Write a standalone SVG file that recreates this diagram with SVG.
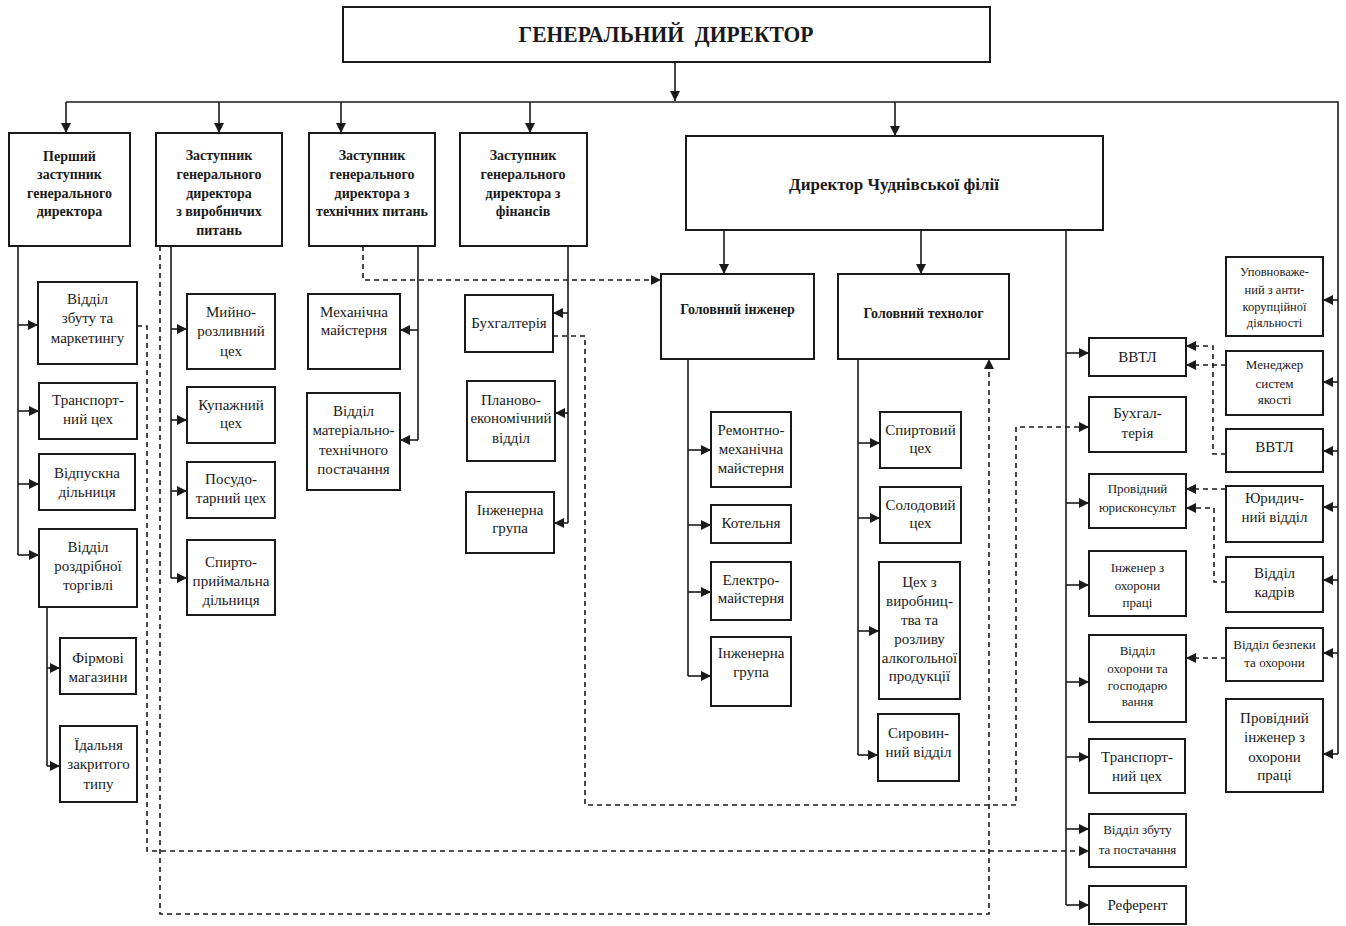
<svg xmlns="http://www.w3.org/2000/svg" width="1346" height="926" viewBox="0 0 1346 926">
<style>
.b{fill:#fff;stroke:#1a1a1a;stroke-width:2}
text{font-family:"Liberation Serif","Times New Roman",serif;fill:#1a1a1a;text-anchor:middle;font-size:15px}
.bo{font-weight:bold;font-size:14px}
.s{font-size:13px}
.xs{font-size:12.5px}
.c{fill:none;stroke:#1a1a1a;stroke-width:1.6;marker-end:url(#a)}
.l{fill:none;stroke:#1a1a1a;stroke-width:1.6}
.d{fill:none;stroke:#1a1a1a;stroke-width:1.6;stroke-dasharray:5 4;marker-end:url(#a)}
</style>
<defs>
<marker id="a" viewBox="0 0 10 10" refX="10" refY="5" markerWidth="11" markerHeight="10" markerUnits="userSpaceOnUse" orient="auto"><path d="M0,0 L10,5 L0,10 z" fill="#1a1a1a"/></marker>
</defs>
<rect width="1346" height="926" fill="#fff"/>

<g id="connectors">
<path class="c" d="M675,62 V101"/>
<path class="l" d="M66,102 H1338 V754"/>
<path class="c" d="M66,102 V133"/>
<path class="c" d="M219,102 V133"/>
<path class="c" d="M341,102 V133"/>
<path class="c" d="M530,102 V133"/>
<path class="c" d="M895,102 V136"/>
<path class="l" d="M18,246 V555"/>
<path class="c" d="M18,325 H38"/>
<path class="c" d="M18,411 H39"/>
<path class="c" d="M18,484 H39"/>
<path class="c" d="M18,555 H39"/>
<path class="l" d="M47,607 V766"/>
<path class="c" d="M47,668 H60"/>
<path class="c" d="M47,766 H60"/>
<path class="l" d="M171,246 V578"/>
<path class="c" d="M171,329 H187"/>
<path class="c" d="M171,420 H187"/>
<path class="c" d="M171,491 H187"/>
<path class="c" d="M171,578 H187"/>
<path class="l" d="M418,246 V440"/>
<path class="c" d="M418,330 H400"/>
<path class="c" d="M418,440 H400"/>
<path class="l" d="M568,246 V523"/>
<path class="c" d="M568,313 H553"/>
<path class="c" d="M568,413 H555"/>
<path class="c" d="M568,523 H554"/>
<path class="c" d="M724,230 V274"/>
<path class="c" d="M921,230 V274"/>
<path class="l" d="M688,359 V676"/>
<path class="c" d="M688,450 H711"/>
<path class="c" d="M688,525 H711"/>
<path class="c" d="M688,592 H711"/>
<path class="c" d="M688,676 H711"/>
<path class="l" d="M858,359 V755"/>
<path class="c" d="M858,443 H880"/>
<path class="c" d="M858,518 H880"/>
<path class="c" d="M858,631 H879"/>
<path class="c" d="M858,755 H878"/>
<path class="l" d="M1066,230 V905"/>
<path class="c" d="M1066,353 H1089"/>
<path class="c" d="M1066,503 H1089"/>
<path class="c" d="M1066,585 H1089"/>
<path class="c" d="M1066,682 H1089"/>
<path class="c" d="M1066,757 H1089"/>
<path class="c" d="M1066,829 H1089"/>
<path class="c" d="M1066,905 H1089"/>
<path class="c" d="M1338,300 H1323"/>
<path class="c" d="M1338,382 H1323"/>
<path class="c" d="M1338,451 H1323"/>
<path class="c" d="M1338,507 H1323"/>
<path class="c" d="M1338,580 H1323"/>
<path class="c" d="M1338,653 H1323"/>
<path class="c" d="M1338,754 H1323"/>
<path class="d" d="M363,246 V280 H661"/>
<path class="d" d="M553,336 H585 V805 H1016 V427 H1089"/>
<path class="d" d="M137,326 H147 V851 H1089"/>
<path class="d" d="M160,246 V914 H989 V359"/>
<path class="d" d="M1226,365 H1186"/>
<path class="d" d="M1226,454 H1213 V346 H1186"/>
<path class="d" d="M1226,489 H1186"/>
<path class="d" d="M1226,582 H1214 V508 H1186"/>
<path class="d" d="M1226,658 H1186"/>
</g>

<g id="gen-dir"><rect class="b" x="343" y="7" width="647" height="55"/><text x="666" y="42" style="font-size:24px;font-weight:bold;white-space:pre" xml:space="preserve" textLength="295" lengthAdjust="spacingAndGlyphs">ГЕНЕРАЛЬНИЙ  ДИРЕКТОР</text></g>

<g id="first-dep"><rect class="b" x="9" y="133" width="121" height="113"/><text class="bo" x="69.5"><tspan x="69.5" y="161">Перший</tspan><tspan x="69.5" y="179">заступник</tspan><tspan x="69.5" y="198">генерального</tspan><tspan x="69.5" y="216">директора</tspan></text></g>
<g id="dep-prod"><rect class="b" x="156" y="133" width="126" height="113"/><text class="bo" x="219"><tspan x="219" y="160">Заступник</tspan><tspan x="219" y="179">генерального</tspan><tspan x="219" y="198">директора</tspan><tspan x="219" y="216">з виробничих</tspan><tspan x="219" y="235">питань</tspan></text></g>
<g id="dep-tech"><rect class="b" x="309" y="133" width="126" height="113"/><text class="bo" x="372"><tspan x="372" y="160">Заступник</tspan><tspan x="372" y="179">генерального</tspan><tspan x="372" y="198">директора з</tspan><tspan x="372" y="216">технічних питань</tspan></text></g>
<g id="dep-fin"><rect class="b" x="460" y="133" width="127" height="113"/><text class="bo" x="523"><tspan x="523" y="160">Заступник</tspan><tspan x="523" y="179">генерального</tspan><tspan x="523" y="198">директора з</tspan><tspan x="523" y="216">фінансів</tspan></text></g>
<g id="branch-dir"><rect class="b" x="686" y="136" width="417" height="94"/><text x="894" y="190" style="font-size:17px;font-weight:bold">Директор Чуднівської філії</text></g>

<g id="sales-mkt"><rect class="b" x="38" y="282" width="99" height="82"/><text x="87.5"><tspan x="87.5" y="304">Відділ</tspan><tspan x="87.5" y="323">збуту та</tspan><tspan x="87.5" y="343">маркетингу</tspan></text></g>
<g id="transport1"><rect class="b" x="39" y="383" width="98" height="56"/><text x="88"><tspan x="88" y="405">Транспорт-</tspan><tspan x="88" y="424">ний цех</tspan></text></g>
<g id="release"><rect class="b" x="39" y="454" width="96" height="56"/><text x="87"><tspan x="87" y="478">Відпускна</tspan><tspan x="87" y="497">дільниця</tspan></text></g>
<g id="retail"><rect class="b" x="39" y="529" width="98" height="78"/><text x="88"><tspan x="88" y="552">Відділ</tspan><tspan x="88" y="571">роздрібної</tspan><tspan x="88" y="590">торгівлі</tspan></text></g>
<g id="shops"><rect class="b" x="60" y="638" width="76" height="56"/><text x="98"><tspan x="98" y="663">Фірмові</tspan><tspan x="98" y="682">магазини</tspan></text></g>
<g id="canteen"><rect class="b" x="60" y="726" width="77" height="76"/><text x="98.5"><tspan x="98.5" y="750">Їдальня</tspan><tspan x="98.5" y="769">закритого</tspan><tspan x="98.5" y="789">типу</tspan></text></g>

<g id="washing"><rect class="b" x="187" y="294" width="88" height="75"/><text x="231"><tspan x="231" y="317">Мийно-</tspan><tspan x="231" y="336">розливний</tspan><tspan x="231" y="356">цех</tspan></text></g>
<g id="blending"><rect class="b" x="187" y="387" width="88" height="56"/><text x="231"><tspan x="231" y="410">Купажний</tspan><tspan x="231" y="428">цех</tspan></text></g>
<g id="tare"><rect class="b" x="187" y="462" width="88" height="56"/><text x="231"><tspan x="231" y="484">Посудо-</tspan><tspan x="231" y="503">тарний цех</tspan></text></g>
<g id="spirit-recv"><rect class="b" x="187" y="540" width="88" height="75"/><text x="231"><tspan x="231" y="567">Спирто-</tspan><tspan x="231" y="586">приймальна</tspan><tspan x="231" y="605">дільниця</tspan></text></g>

<g id="mech-shop"><rect class="b" x="308" y="294" width="92" height="75"/><text x="354"><tspan x="354" y="317">Механічна</tspan><tspan x="354" y="335">майстерня</tspan></text></g>
<g id="supply"><rect class="b" x="307" y="393" width="93" height="97"/><text x="353.5"><tspan x="353.5" y="416">Відділ</tspan><tspan x="353.5" y="435">матеріально-</tspan><tspan x="353.5" y="455">технічного</tspan><tspan x="353.5" y="474">постачання</tspan></text></g>

<g id="accounting1"><rect class="b" x="465" y="295" width="88" height="57"/><text x="509" y="328">Бухгалтерія</text></g>
<g id="planning"><rect class="b" x="467" y="381" width="88" height="80"/><text x="511"><tspan x="511" y="405">Планово-</tspan><tspan x="511" y="423">економічний</tspan><tspan x="511" y="443">відділ</tspan></text></g>
<g id="eng-group1"><rect class="b" x="466" y="492" width="88" height="61"/><text x="510"><tspan x="510" y="515">Інженерна</tspan><tspan x="510" y="533">група</tspan></text></g>

<g id="chief-eng"><rect class="b" x="661" y="274" width="153" height="85"/><text class="bo" x="737.5" y="314">Головний інженер</text></g>
<g id="chief-tech"><rect class="b" x="838" y="274" width="171" height="85"/><text class="bo" x="923.5" y="318">Головний технолог</text></g>

<g id="repair"><rect class="b" x="711" y="412" width="80" height="75"/><text x="751"><tspan x="751" y="435">Ремонтно-</tspan><tspan x="751" y="454">механічна</tspan><tspan x="751" y="473">майстерня</tspan></text></g>
<g id="boiler"><rect class="b" x="711" y="505" width="80" height="38"/><text x="751" y="528">Котельня</text></g>
<g id="electro"><rect class="b" x="711" y="562" width="80" height="58"/><text x="751"><tspan x="751" y="585">Електро-</tspan><tspan x="751" y="603">майстерня</tspan></text></g>
<g id="eng-group2"><rect class="b" x="711" y="637" width="80" height="69"/><text x="751"><tspan x="751" y="658">Інженерна</tspan><tspan x="751" y="677">група</tspan></text></g>

<g id="spirit-shop"><rect class="b" x="880" y="412" width="81" height="56"/><text x="920.5"><tspan x="920.5" y="435">Спиртовий</tspan><tspan x="920.5" y="453">цех</tspan></text></g>
<g id="malt-shop"><rect class="b" x="880" y="487" width="81" height="56"/><text x="920.5"><tspan x="920.5" y="510">Солодовий</tspan><tspan x="920.5" y="528">цех</tspan></text></g>
<g id="production"><rect class="b" x="879" y="562" width="81" height="137"/><text x="919.5"><tspan x="919.5" y="587">Цех з</tspan><tspan x="919.5" y="606">виробниц-</tspan><tspan x="919.5" y="625">тва та</tspan><tspan x="919.5" y="644">розливу</tspan><tspan x="919.5" y="663">алкогольної</tspan><tspan x="919.5" y="681">продукції</tspan></text></g>
<g id="raw"><rect class="b" x="878" y="714" width="81" height="67"/><text x="918.5"><tspan x="918.5" y="738">Сировин-</tspan><tspan x="918.5" y="757">ний відділ</tspan></text></g>

<g id="vvtl1"><rect class="b" x="1089" y="338" width="97" height="38"/><text x="1137.5" y="362">ВВТЛ</text></g>
<g id="accounting2"><rect class="b" x="1089" y="397" width="97" height="55"/><text x="1137.5"><tspan x="1137.5" y="418">Бухгал-</tspan><tspan x="1137.5" y="438">терія</tspan></text></g>
<g id="lawyer"><rect class="b" x="1089" y="474" width="97" height="54"/><text class="s" x="1137.5"><tspan x="1137.5" y="493">Провідний</tspan><tspan x="1137.5" y="512">юрисконсульт</tspan></text></g>
<g id="safety-eng"><rect class="b" x="1089" y="551" width="97" height="65"/><text class="s" x="1137.5"><tspan x="1137.5" y="572">Інженер з</tspan><tspan x="1137.5" y="590">охорони</tspan><tspan x="1137.5" y="607">праці</tspan></text></g>
<g id="security-mgmt"><rect class="b" x="1089" y="635" width="97" height="87"/><text class="s" x="1137.5"><tspan x="1137.5" y="655">Відділ</tspan><tspan x="1137.5" y="673">охорони та</tspan><tspan x="1137.5" y="690">господарю</tspan><tspan x="1137.5" y="706">вання</tspan></text></g>
<g id="transport2"><rect class="b" x="1089" y="739" width="96" height="54"/><text x="1137"><tspan x="1137" y="762">Транспорт-</tspan><tspan x="1137" y="781">ний цех</tspan></text></g>
<g id="sales-supply"><rect class="b" x="1089" y="814" width="97" height="53"/><text class="s" x="1137.5"><tspan x="1137.5" y="834">Відділ збуту</tspan><tspan x="1137.5" y="854">та постачання</tspan></text></g>
<g id="referent"><rect class="b" x="1089" y="886" width="97" height="38"/><text x="1137.5" y="910">Референт</text></g>

<g id="anticorr"><rect class="b" x="1226" y="257" width="97" height="79"/><text class="xs" x="1274.5"><tspan x="1274.5" y="276">Уповноваже-</tspan><tspan x="1274.5" y="294">ний з анти-</tspan><tspan x="1274.5" y="311">корупційної</tspan><tspan x="1274.5" y="327">діяльності</tspan></text></g>
<g id="quality"><rect class="b" x="1226" y="351" width="97" height="64"/><text class="s" x="1274.5"><tspan x="1274.5" y="369">Менеджер</tspan><tspan x="1274.5" y="388">систем</tspan><tspan x="1274.5" y="404">якості</tspan></text></g>
<g id="vvtl2"><rect class="b" x="1226" y="429" width="97" height="43"/><text x="1274.5" y="452">ВВТЛ</text></g>
<g id="legal"><rect class="b" x="1226" y="486" width="97" height="56"/><text x="1274.5"><tspan x="1274.5" y="503">Юридич-</tspan><tspan x="1274.5" y="522">ний відділ</tspan></text></g>
<g id="hr"><rect class="b" x="1226" y="557" width="97" height="55"/><text x="1274.5"><tspan x="1274.5" y="578">Відділ</tspan><tspan x="1274.5" y="597">кадрів</tspan></text></g>
<g id="security"><rect class="b" x="1226" y="628" width="97" height="53"/><text class="s" x="1274.5"><tspan x="1274.5" y="649">Відділ безпеки</tspan><tspan x="1274.5" y="667">та охорони</tspan></text></g>
<g id="lead-safety"><rect class="b" x="1226" y="699" width="97" height="93"/><text x="1274.5"><tspan x="1274.5" y="723">Провідний</tspan><tspan x="1274.5" y="742">інженер з</tspan><tspan x="1274.5" y="762">охорони</tspan><tspan x="1274.5" y="780">праці</tspan></text></g>
</svg>
